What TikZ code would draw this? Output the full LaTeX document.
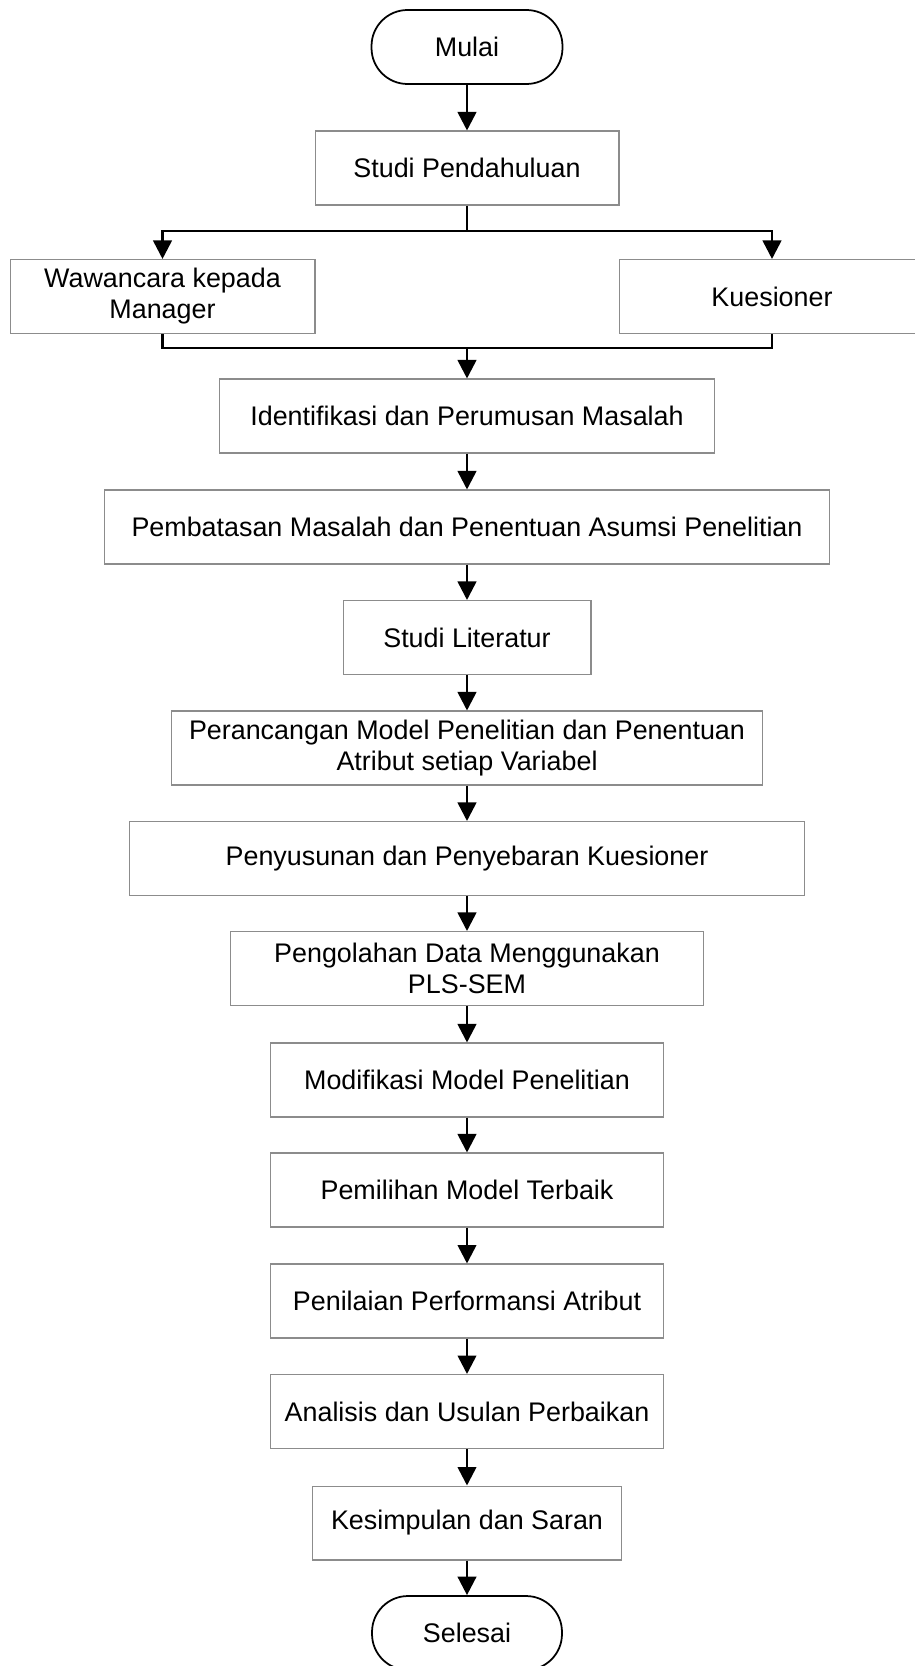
\documentclass[tikz,border=0pt]{standalone}
\usepackage{fontspec}
\setmainfont{Liberation Sans}
\usetikzlibrary{arrows.meta,calc}
\tikzset{proc/.style={draw=black!45, line width=0.6pt, minimum height=1.48cm, inner sep=2pt, align=center,
    font=\fontsize{15.3}{17.6}\selectfont},
  term/.style={proc, draw=black, line width=1pt, rounded corners=0.72cm},
  flow/.style={line width=1.5pt, -{Triangle[length=0.37cm, width=0.37cm]}}}

\begin{document}
\begin{tikzpicture}[x=0.02cm, y=-0.02cm]
        \useasboundingbox (0,0) rectangle (914,1666);
        \node[term, minimum width=3.82cm] (mulai) at (467, 47) {Mulai};
        \node[proc, minimum width=6.08cm] (studi) at (467, 168) {Studi Pendahuluan};
        \node[proc, minimum width=6.1cm] (wawancara) at (162.5, 296.5) {Wawancara kepada\\Manager};
        \node[proc, minimum width=6.12cm] (kuesioner) at (772, 296.5) {Kuesioner};
        \node[proc, minimum width=9.92cm] (identifikasi) at (467, 416) {Identifikasi dan Perumusan Masalah};
        \node[proc, minimum width=14.52cm] (pembatasan) at (467, 527) {Pembatasan Masalah dan Penentuan Asumsi Penelitian};
        \node[proc, minimum width=4.96cm] (literatur) at (467, 637.5) {Studi Literatur};
        \node[proc, minimum width=11.82cm] (perancangan) at (467, 748) {Perancangan Model Penelitian dan Penentuan\\Atribut setiap Variabel};
        \node[proc, minimum width=13.5cm] (penyusunan) at (467, 858.5) {Penyusunan dan Penyebaran Kuesioner};
        \node[proc, minimum width=9.48cm] (pengolahan) at (467, 968.5) {Pengolahan Data Menggunakan\\PLS-SEM};
        \node[proc, minimum width=7.86cm] (modifikasi) at (467, 1080) {Modifikasi Model Penelitian};
        \node[proc, minimum width=7.86cm] (pemilihan) at (467, 1190) {Pemilihan Model Terbaik};
        \node[proc, minimum width=7.86cm] (penilaian) at (467, 1301) {Penilaian Performansi Atribut};
        \node[proc, minimum width=7.86cm] (analisis) at (467, 1411.5) {Analisis dan Usulan Perbaikan};
        \node[proc, minimum width=6.18cm] (kesimpulan) at (467, 1523) {Kesimpulan dan Saran};
        \node[term, minimum width=3.8cm] (selesai) at (467, 1633) {Selesai};

        % branch to the two data sources and back
        \coordinate (split) at (467, 231);
        \coordinate (merge) at (467, 348);
        \draw[line width=1.5pt] (studi.south) -- (split);
        \draw[flow] (split) -| (wawancara.north);
        \draw[flow] (split) -| (kuesioner.north);
        \draw[line width=1.5pt] (wawancara.south) |- (merge) -| (kuesioner.south);

        \draw (mulai) edge[flow] (studi)
              (merge) edge[flow] (identifikasi)
              (identifikasi) edge[flow] (pembatasan)
              (pembatasan) edge[flow] (literatur)
              (literatur) edge[flow] (perancangan)
              (perancangan) edge[flow] (penyusunan)
              (penyusunan) edge[flow] (pengolahan)
              (pengolahan) edge[flow] (modifikasi)
              (modifikasi) edge[flow] (pemilihan)
              (pemilihan) edge[flow] (penilaian)
              (penilaian) edge[flow] (analisis)
              (analisis) edge[flow] (kesimpulan)
              (kesimpulan) edge[flow] (selesai)
              ;
    \end{tikzpicture}
\end{document}
